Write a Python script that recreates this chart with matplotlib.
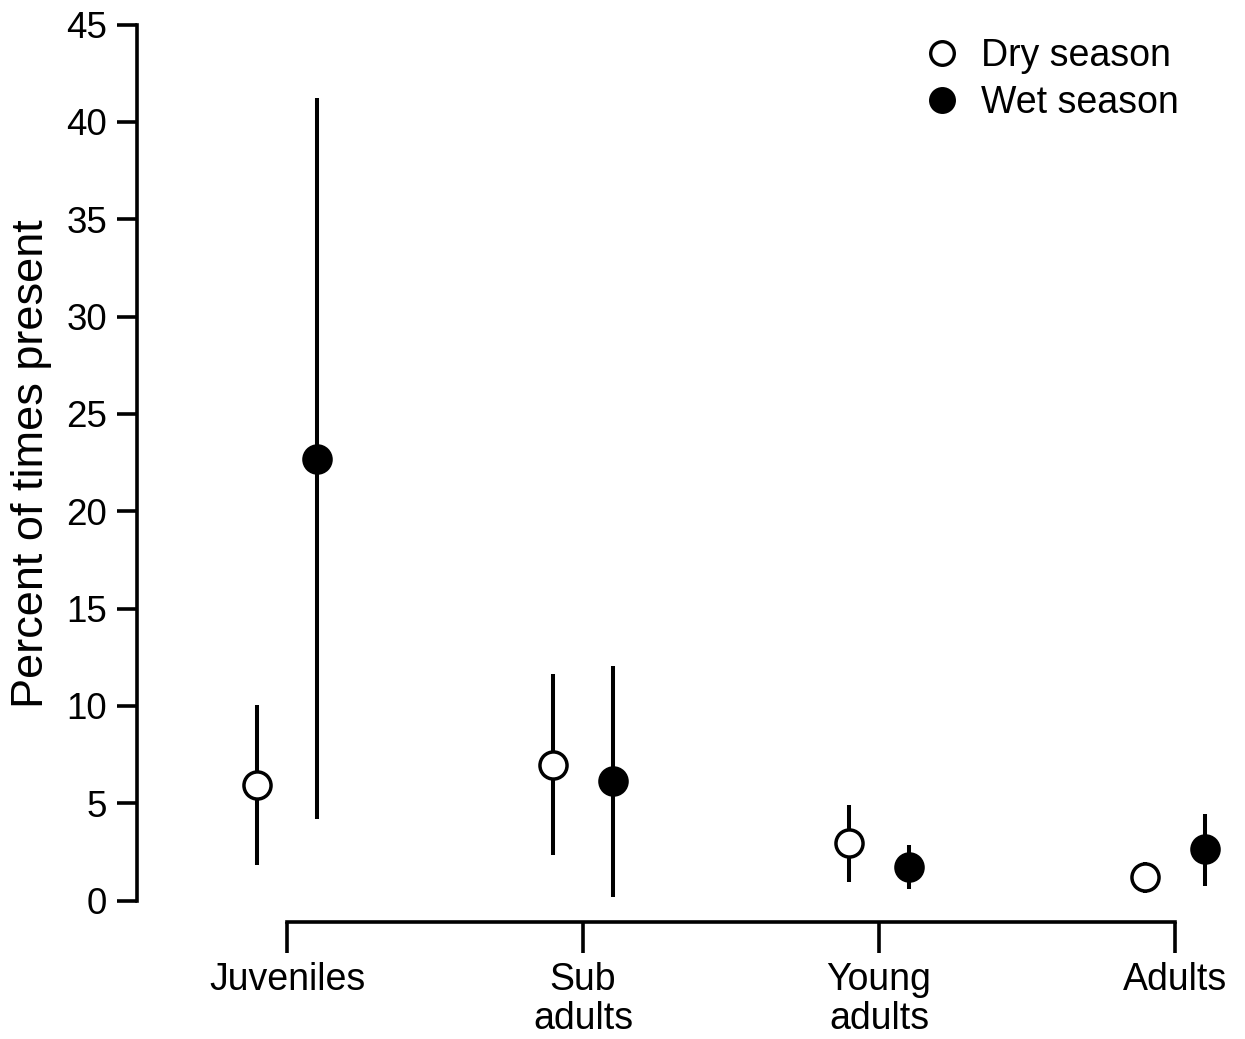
import numpy as np
import matplotlib
matplotlib.use('Agg')
import matplotlib.pyplot as plt
from matplotlib.lines import Line2D

plt.rcParams['font.family'] = ['Liberation Sans', 'DejaVu Sans']

# age classes and percent of times present (mean with interval)
categories = ['Juveniles', 'Sub\nadults', 'Young\nadults', 'Adults']
dry_mean = [5.94, 6.97, 2.98, 1.20]
dry_low = [1.83, 2.35, 0.98, 0.40]
dry_high = [10.05, 11.63, 4.90, 2.00]
wet_mean = [22.69, 6.15, 1.72, 2.63]
wet_low = [4.20, 0.20, 0.59, 0.77]
wet_high = [41.20, 12.07, 2.86, 4.44]
y_ticks = [0, 5, 10, 15, 20, 25, 30, 35, 40, 45]

W, H = 1245, 1039
fig = plt.figure(figsize=(W / 100, H / 100), dpi=100)
# axes placed in pixel terms
left_px, right_px, top_px, bottom_px = 137, 1230, 5.03, 922
ax = fig.add_axes([left_px / W, 1 - bottom_px / H,
                   (right_px - left_px) / W, (bottom_px - top_px) / H])

x = np.arange(len(categories))
off = 0.1
lw = 2.9

ax.vlines(x - off, dry_low, dry_high, color='black', lw=lw, zorder=2)
ax.vlines(x + off, wet_low, wet_high, color='black', lw=lw, zorder=2)
ax.plot(x - off, dry_mean, 'o', ms=19.5, mfc='white', mec='black', mew=2.5,
        ls='none', zorder=3)
ax.plot(x + off, wet_mean, 'o', ms=19.5, mfc='black', mec='black', mew=2.5,
        ls='none', zorder=3)

ax.set_xlim(-150 / 296, (right_px - 287) / 296)
ax.set_ylim(-1.094, 46.0)

for s in ['top', 'right']:
    ax.spines[s].set_visible(False)
ax.spines['left'].set_bounds(0, 45)
ax.spines['bottom'].set_bounds(0, 3)
ax.spines['left'].set_linewidth(2.6)
ax.spines['bottom'].set_linewidth(2.6)

ax.set_yticks(y_ticks)
ax.set_yticklabels([str(v) for v in y_ticks])
ax.set_xticks(x)
ax.set_xticklabels(categories, linespacing=1.1)
ax.tick_params(axis='y', length=14.4, width=2.6, labelsize=26.5, pad=7)
ax.tick_params(axis='x', length=22, width=2.6, labelsize=27, pad=7)

ax.set_ylabel('Percent of times present', fontsize=32.5)
ax.yaxis.set_label_coords(-0.078, 0.5)

handles = [
    Line2D([], [], marker='o', ls='none', ms=17, mfc='white', mec='black', mew=2.4),
    Line2D([], [], marker='o', ls='none', ms=17, mfc='black', mec='black', mew=2.4),
]
fig.legend(handles, ['Dry season', 'Wet season'], loc='upper left',
           bbox_to_anchor=(925 / W, 1 - 38 / H), frameon=False, fontsize=27,
           handlelength=0.9, handletextpad=0.6, labelspacing=0.3,
           borderpad=0, borderaxespad=0)

fig.savefig('out.png', dpi=100)
